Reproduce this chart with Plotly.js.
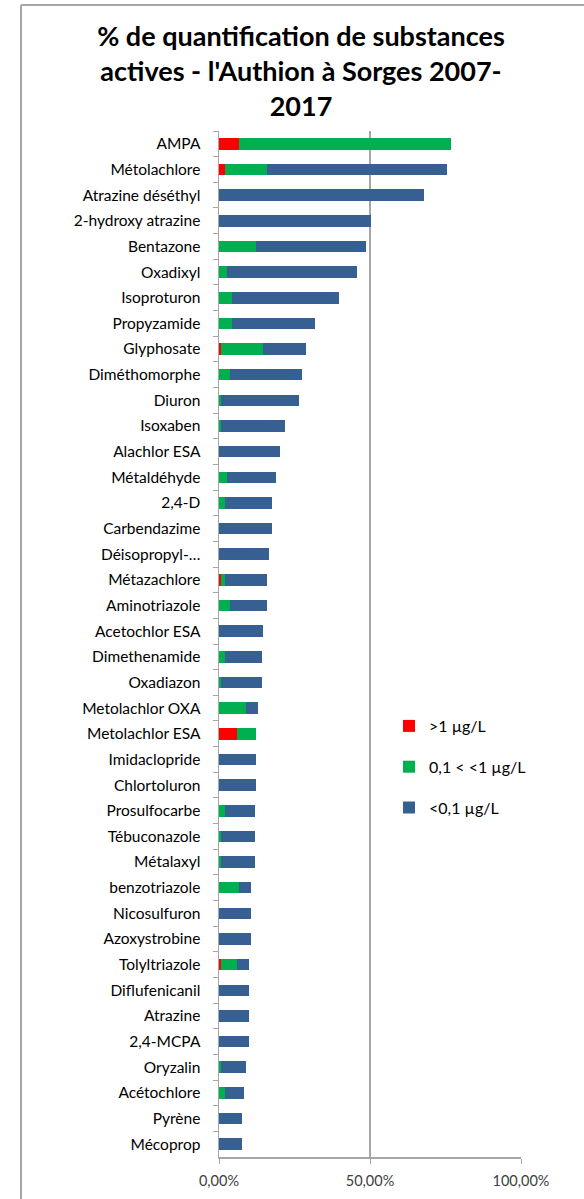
<!DOCTYPE html>
<html>
<head>
<meta charset="utf-8">
<script src="https://cdn.plot.ly/plotly-3.0.1.min.js"></script>
<style>
html,body{margin:0;padding:0;background:#fff;}
#chart{width:584px;height:1199px;}
</style>
</head>
<body>
<div id="chart"></div>
<script>
const categories = ["AMPA","Métolachlore","Atrazine déséthyl","2-hydroxy atrazine","Bentazone","Oxadixyl","Isoproturon","Propyzamide","Glyphosate","Diméthomorphe","Diuron","Isoxaben","Alachlor ESA","Métaldéhyde","2,4-D","Carbendazime","Déisopropyl-…","Métazachlore","Aminotriazole","Acetochlor ESA","Dimethenamide","Oxadiazon","Metolachlor OXA","Metolachlor ESA","Imidaclopride","Chlortoluron","Prosulfocarbe","Tébuconazole","Métalaxyl","benzotriazole","Nicosulfuron","Azoxystrobine","Tolyltriazole","Diflufenicanil","Atrazine","2,4-MCPA","Oryzalin","Acétochlore","Pyrène","Mécoprop"];
// % of analyses
const above1 = [6.5,1.9,0,0,0,0,0,0,0.7,0,0,0,0,0,0,0,0,0.7,0,0,0,0,0,5.8,0,0,0,0,0,0,0,0,0.7,0,0,0,0,0,0,0];
const between = [70.2,13.9,0,0,12.4,2.5,4.3,4.3,14.0,3.5,0.8,0.7,0,2.5,1.9,0,0,1.2,3.6,0,1.9,0.7,8.8,6.6,0,0,1.9,0.7,0.7,6.5,0,0,5.3,0,0,0,0.7,1.9,0,0];
const below01 = [0,59.8,67.9,50.4,36.3,43.2,35.5,27.4,14.1,24.1,25.7,21.0,20.1,16.3,15.8,17.7,16.6,14.0,12.3,14.7,12.3,13.5,4.2,0,12.4,12.4,9.9,11.1,11.1,4.2,10.7,10.7,4.0,10.0,10.0,10.0,8.1,6.4,7.7,7.7];
const seriesNames = [">1 µg/L","0,1 < <1 µg/L","<0,1 µg/L"];
const seriesColors = ["#FF0000","#00B050","#376092"];
const xTickVals = [0, 0.5, 1];
const xTickText = ["0,00%","50,00%","100,00%"];

const F = "Lato, 'Open Sans', sans-serif";
const all = [above1, between, below01];
const traces = all.map((vals, i) => ({
  type: 'bar', orientation: 'h',
  y: categories, x: vals.map(v => v / 100),
  name: seriesNames[i], legendgroup: 'g' + i,
  marker: {color: seriesColors[i], line: {width: 0}},
  hoverinfo: 'skip'
}));

const L = 219, R = 521, T = 131, B = 1157, W = 584, H = 1199;
const px = x => (x - L) / (R - L);
const py = y => (B - y) / (B - T);

const layout = {
  width: W, height: H,
  margin: {l: L, r: W - R, t: T, b: H - B, pad: 0},
  paper_bgcolor: '#fff', plot_bgcolor: '#fff',
  barmode: 'stack', bargap: 0.55,
  showlegend: true,
  font: {family: F, color: '#404040'},
  title: {
    text: "% de quantification de substances<br>actives - l'Authion à Sorges 2007-<br>2017",
    font: {family: F, size: 27, color: '#000', weight: 'bold'},
    x: 301 / W, xref: 'container', xanchor: 'center',
    y: 1 - 46 / H, yref: 'container', yanchor: 'top'
  },
  xaxis: {
    range: [0, 1], tickvals: xTickVals, ticktext: xTickText,
    showgrid: true, gridcolor: '#A6A6A6', gridwidth: 1.5,
    zeroline: false, showline: true, linecolor: '#A6A6A6', linewidth: 1.5,
    ticks: 'outside', ticklen: 5, tickcolor: '#A6A6A6',
    tickfont: {family: F, size: 14.5, color: '#404040'},
    ticklabelstandoff: 5,
    fixedrange: true
  },
  yaxis: {
    autorange: 'reversed', type: 'category',
    showline: true, linecolor: '#A6A6A6', linewidth: 1.5,
    ticks: 'outside', ticklen: 5, tickcolor: '#A6A6A6', tickson: 'boundaries',
    showgrid: false, zeroline: false,
    tickfont: {family: F, size: 15.5, color: '#000'},
    ticklabelstandoff: 14,
    fixedrange: true
  },
  legend: {
    x: px(389), y: py(709), xanchor: 'left', yanchor: 'top',
    traceorder: 'grouped', tracegroupgap: 17,
    font: {family: F, size: 16, color: '#000'},
    bgcolor: 'rgba(0,0,0,0)', itemwidth: 30
  },
  shapes: [
    {type: 'line', xref: 'paper', yref: 'paper', x0: px(21), x1: px(600), y0: py(5), y1: py(5), line: {color: '#A6A6A6', width: 2}},
    {type: 'line', xref: 'paper', yref: 'paper', x0: px(21), x1: px(21), y0: py(5), y1: py(1210), line: {color: '#A6A6A6', width: 2}}
  ]
};

Plotly.newPlot('chart', traces, layout, {displayModeBar: false, staticPlot: true});
</script>
</body>
</html>
